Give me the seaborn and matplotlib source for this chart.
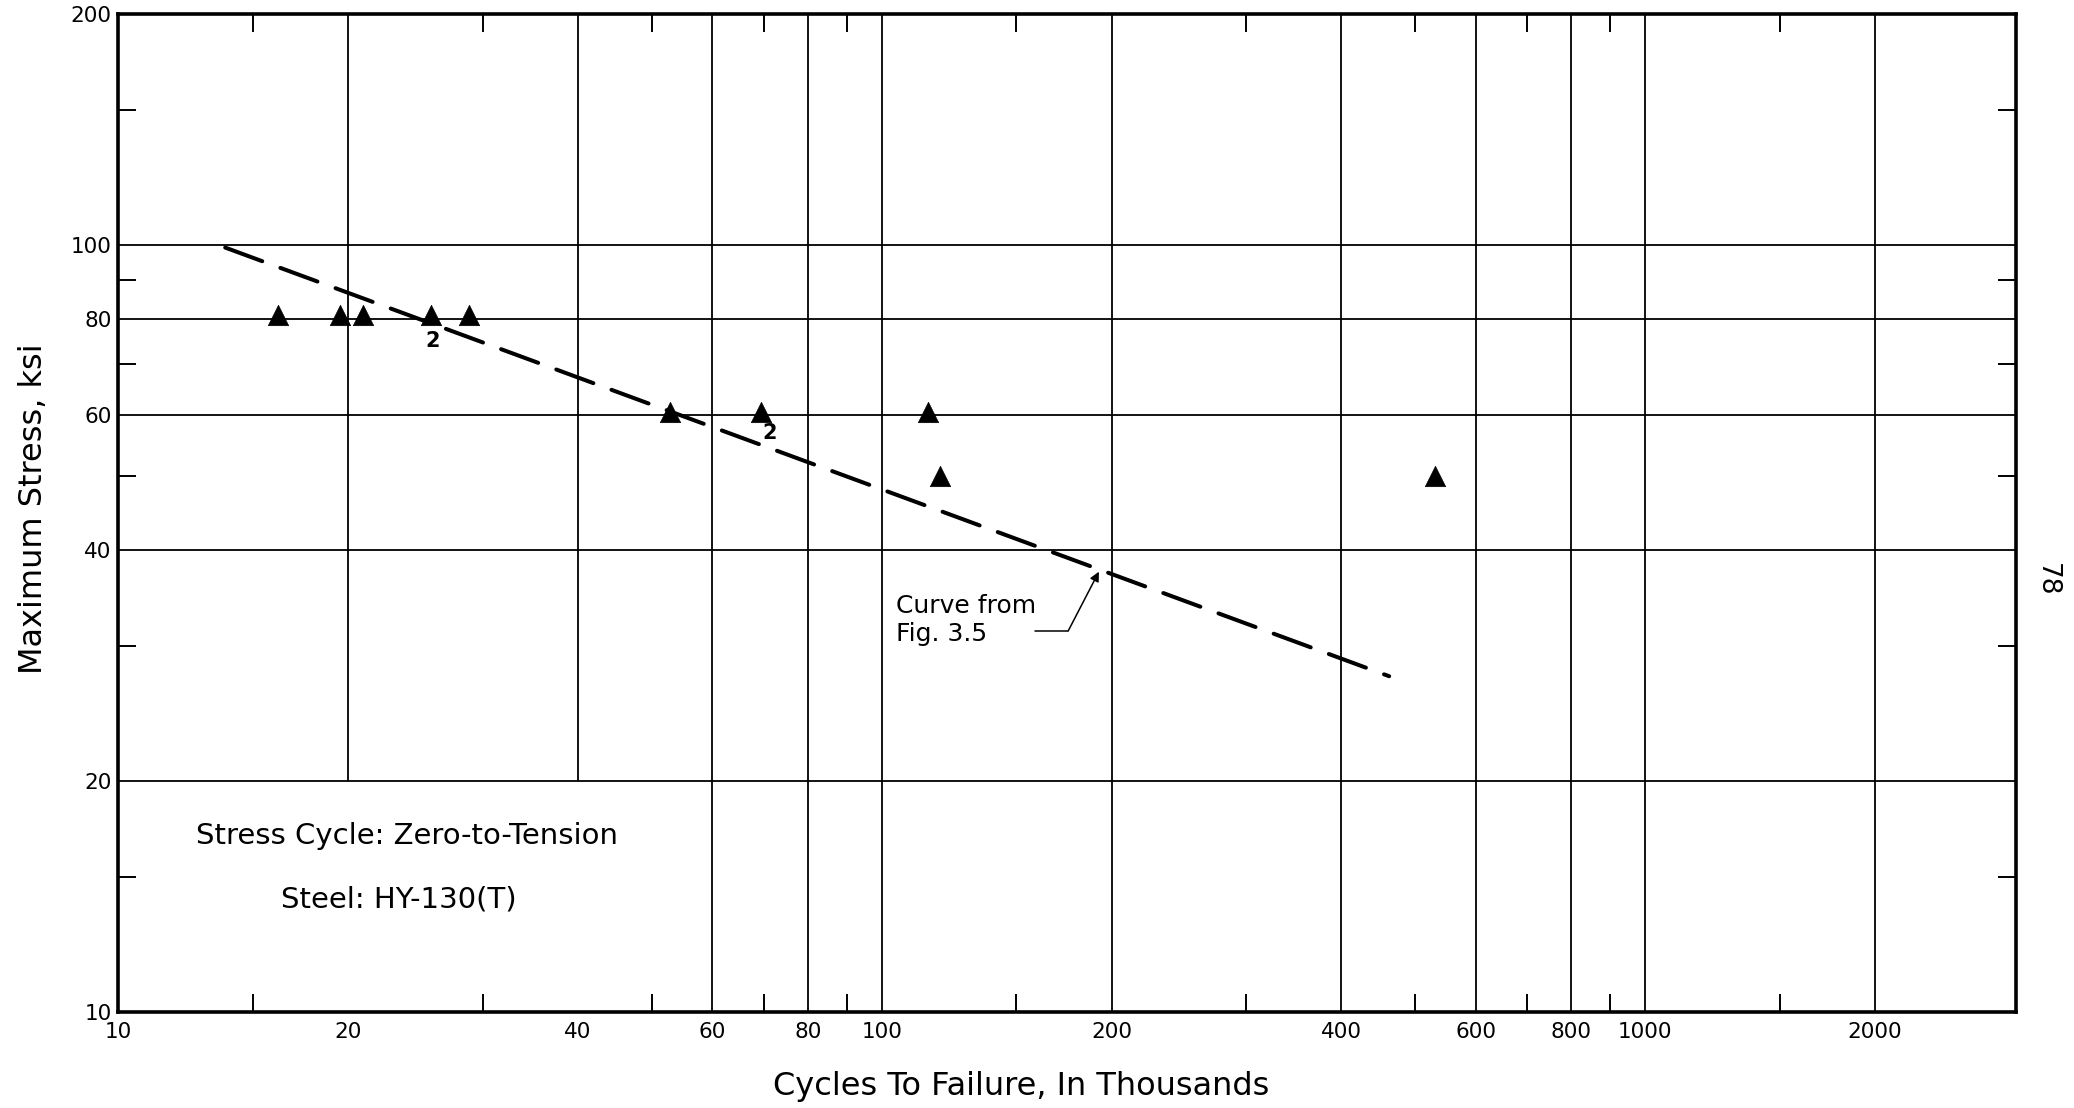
import matplotlib
matplotlib.use("Agg")
import matplotlib.pyplot as plt
import seaborn as sns
import pandas as pd
from matplotlib.ticker import FixedLocator, FixedFormatter, NullFormatter

# ---------------- data ----------------
cycles_k = [16.2, 19.5, 20.9, 25.7, 28.8, 52.8, 69.5, 114.8, 119.3, 530.0]
stress_ksi = [81.0, 81.0, 81.0, 81.0, 81.0, 60.6, 60.6, 60.6, 50.0, 50.0]

# repeat-count labels ("2" = two specimens)
repeat_labels = ["2", "2"]
repeat_x = [25.8, 71.4]
repeat_y = [75.0, 56.8]

# "Curve from Fig. 3.5" (straight line in log-log space)
curve_cycles = [13.8, 462.0]
curve_stress = [99.2, 27.4]

# axes ticks / grid
x_major = [10, 20, 40, 60, 80, 100, 200, 400, 600, 800, 1000, 2000]
x_major_labels = ["10", "20", "40", "60", "80", "100", "200", "400", "600", "800", "1000", "2000"]
x_minor = [15, 30, 50, 70, 90, 150, 300, 500, 700, 900, 1500]
y_major = [10, 20, 40, 60, 80, 100, 200]
y_major_labels = ["10", "20", "40", "60", "80", "100", "200"]
y_minor = [15, 30, 50, 70, 90, 150]
x_grid_full = [60, 80, 100, 200, 400, 600, 800, 1000, 2000]
x_grid_short = [20, 40]          # these stop at the 20 ksi line
y_grid = [20, 40, 60, 80, 100]

x_limits = (10, 3060)
y_limits = (10, 200)

# ---------------- figure ----------------
sns.set_theme(style="white")
plt.rcParams["font.family"] = ["DejaVu Sans"]

fig = plt.figure(figsize=(20.74, 11.08), dpi=100)
ax = fig.add_axes([0.0571, 0.0866, 0.9149, 0.9008])
ax.set_xscale("log")
ax.set_yscale("log")
ax.set_xlim(*x_limits)
ax.set_ylim(*y_limits)

grid_kw = dict(color="black", linewidth=1.3, zorder=1)
ax.vlines(x_grid_full, y_limits[0], y_limits[1], **grid_kw)
ax.vlines(x_grid_short, y_grid[0], y_limits[1], **grid_kw)
ax.hlines(y_grid, x_limits[0], x_limits[1], **grid_kw)

# fitted curve
sns.lineplot(x=curve_cycles, y=curve_stress, ax=ax, color="black",
             linewidth=2.9, linestyle=(0, (9.8, 4.8)), dash_capstyle="round",
             zorder=3, legend=False)

# test data
df = pd.DataFrame({"cycles": cycles_k, "stress": stress_ksi})
sns.scatterplot(data=df, x="cycles", y="stress", ax=ax, marker="^", s=215,
                color="black", edgecolor="black", linewidth=0.5, zorder=4,
                legend=False)

for lab, lx, ly in zip(repeat_labels, repeat_x, repeat_y):
    ax.text(lx, ly, lab, ha="center", va="center", fontsize=15,
            fontweight="bold", color="black", zorder=5)

# annotation for the curve
ax.text(0.4098, 0.3928, "Curve from\nFig. 3.5", transform=ax.transAxes,
        ha="left", va="center", fontsize=18, linespacing=1.25, color="black")
ax.plot([158.7, 175.5], [31.4, 31.4], color="black", linewidth=1.1, zorder=3)
ax.annotate("", xy=(192.5, 37.5), xytext=(175.5, 31.4),
            arrowprops=dict(arrowstyle="-|>", color="black", lw=1.1,
                            mutation_scale=14, shrinkA=0, shrinkB=0),
            zorder=3)

# info text
ax.text(0.152, 0.1764, "Stress Cycle: Zero-to-Tension", transform=ax.transAxes,
        ha="center", va="center", fontsize=21, color="black")
ax.text(0.148, 0.1132, "Steel: HY-130(T)", transform=ax.transAxes,
        ha="center", va="center", fontsize=21, color="black")

# ticks
ax.xaxis.set_major_locator(FixedLocator(x_major))
ax.xaxis.set_major_formatter(FixedFormatter(x_major_labels))
ax.xaxis.set_minor_locator(FixedLocator(x_minor))
ax.xaxis.set_minor_formatter(NullFormatter())
ax.yaxis.set_major_locator(FixedLocator(y_major))
ax.yaxis.set_major_formatter(FixedFormatter(y_major_labels))
ax.yaxis.set_minor_locator(FixedLocator(y_minor))
ax.yaxis.set_minor_formatter(NullFormatter())

ax.tick_params(which="minor", direction="in", length=13, width=1.4,
               top=True, bottom=True, left=True, right=True, color="black")
ax.tick_params(which="major", length=0, labelsize=15.5, labelcolor="black")
ax.tick_params(axis="x", which="major", pad=7)
ax.tick_params(axis="y", which="major", pad=5)

for sp in ax.spines.values():
    sp.set_visible(True)
    sp.set_color("black")
    sp.set_linewidth(2.6)

ax.set_xlabel("Cycles To Failure, In Thousands", fontsize=23, color="black",
              va="center")
ax.set_ylabel("Maximum Stress, ksi", fontsize=23, color="black", va="center")
ax.xaxis.set_label_coords(0.4757, -0.075)
ax.yaxis.set_label_coords(-0.045, 0.504)

# page number
fig.text(0.987, 0.4765, "78", rotation=-90, ha="center", va="center",
         fontsize=19, color="black")

fig.savefig("out.png", dpi=100, facecolor="white")
